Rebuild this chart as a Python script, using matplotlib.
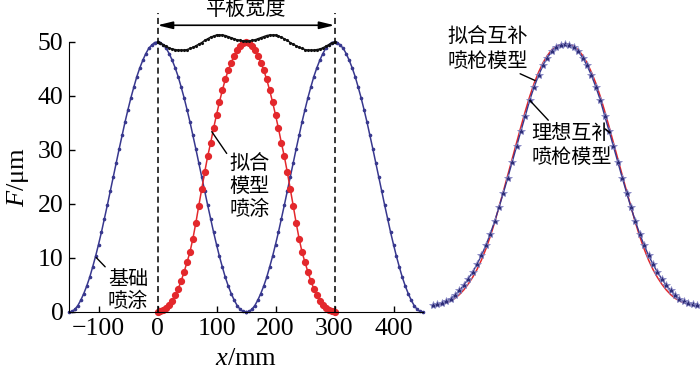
import numpy as np
import matplotlib
matplotlib.use('Agg')
import matplotlib.pyplot as plt

plt.rcParams['font.family'] = ['Liberation Serif', 'Noto Sans CJK SC']
plt.rcParams['mathtext.fontset'] = 'custom'
plt.rcParams['mathtext.rm'] = 'Liberation Serif'
plt.rcParams['mathtext.it'] = 'Liberation Serif:italic'

cjk = ['Noto Sans CJK SC']

# --- datos (paso de 5 mm) ---
perfil_x = np.arange(-150, 155, 5)          # posicion relativa al centro de la pistola
centros_base = [0, 300]                     # dos pasadas de la pistola base
centro_ajuste = 150

# pistola base (azul)
base_F = [0.0, 0.1, 0.5, 1.2, 2.2, 3.4, 4.8, 6.4, 8.3, 10.3, 12.5, 14.8, 17.3, 19.8, 22.4, 25.0,
          27.6, 30.2, 32.7, 35.2, 37.5, 39.7, 41.7, 43.6, 45.2, 46.6, 47.8, 48.8, 49.4, 49.9, 50.0,
          49.9, 49.4, 48.8, 47.8, 46.6, 45.2, 43.6, 41.7, 39.7, 37.5, 35.2, 32.7, 30.2, 27.6,
          25.0, 22.4, 19.8, 17.3, 14.8, 12.5, 10.3, 8.3, 6.4, 4.8, 3.4, 2.2, 1.2, 0.5, 0.1, 0.0]

# modelo ajustado (rojo)
ajuste_F = [0.0, 0.1, 0.3, 0.7, 1.3, 2.1, 3.1, 4.3, 5.7, 7.4, 9.2, 11.1, 13.6, 16.5, 19.7, 22.8,
            25.9, 28.8, 31.3, 34.0, 36.5, 38.9, 41.1, 43.1, 44.8, 46.2, 47.5, 48.5, 49.3, 49.8, 50.0,
            49.8, 49.3, 48.5, 47.5, 46.2, 44.8, 43.1, 41.1, 38.9, 36.5, 34.0, 31.3, 28.8, 25.9,
            22.8, 19.7, 16.5, 13.6, 11.1, 9.2, 7.4, 5.7, 4.3, 3.1, 2.1, 1.3, 0.7, 0.3, 0.1, 0.0]

# espesor de pelicula (negro), x = 0..300
pelicula_x = np.arange(0, 305, 5)
pelicula_F = [50.0, 49.8, 49.5, 49.2, 48.9, 48.7, 48.6, 48.5, 48.5, 48.5, 48.6, 48.8, 49.0, 49.3,
              49.6, 49.9, 50.3, 50.6, 50.9, 51.1, 51.3, 51.3, 51.3, 51.2, 51.0, 50.8, 50.6, 50.4,
              50.3, 50.2, 50.2, 50.2, 50.3, 50.4, 50.6, 50.8, 51.0, 51.2, 51.3, 51.3, 51.3, 51.1,
              50.9, 50.6, 50.3, 49.9, 49.6, 49.3, 49.0, 48.8, 48.6, 48.5, 48.5, 48.5, 48.6, 48.7,
              48.9, 49.2, 49.5, 49.8, 50.0]

placa = [0, 300]

# panel derecho: modelos complementarios
ideal_F = [0.0, 0.1, 0.35, 0.7, 1.2, 1.9, 2.8, 3.8, 5.0, 6.3, 7.8, 9.5, 11.4, 13.6, 16.0, 18.7,
           21.5, 24.4, 27.4, 30.4, 33.4, 36.3, 39.3, 41.8, 44.0, 45.9, 47.4, 48.6, 49.4, 49.85, 50.0,
           49.85, 49.4, 48.6, 47.4, 45.9, 44.0, 41.8, 39.3, 36.3, 33.4, 30.4, 27.4, 24.4, 21.5,
           18.7, 16.0, 13.6, 11.4, 9.5, 7.8, 6.3, 5.0, 3.8, 2.8, 1.9, 1.2, 0.7, 0.35, 0.1, 0.0]
ajuste2_F = [0.0, 0.05, 0.2, 0.45, 0.8, 1.3, 2.0, 2.9, 4.0, 5.3, 6.8, 8.6, 10.7, 13.1, 15.8, 18.8,
             21.8, 24.9, 28.0, 31.1, 34.2, 37.2, 40.0, 42.5, 44.6, 46.4, 47.8, 48.9, 49.5, 49.9, 50.0,
             49.9, 49.5, 48.9, 47.8, 46.4, 44.6, 42.5, 40.0, 37.2, 34.2, 31.1, 28.0, 24.9, 21.8,
             18.8, 15.8, 13.1, 10.7, 8.6, 6.8, 5.3, 4.0, 2.9, 2.0, 1.3, 0.8, 0.45, 0.2, 0.05, 0.0]

azul = '#38388e'
rojo = '#e3282c'

fig = plt.figure(figsize=(7, 3.74), dpi=100)
ax = fig.add_axes([69/700, 62/374, 354/700, 270/374])

for c in centros_base:
    ax.plot(perfil_x + c, base_F, '-', color=azul, lw=1.1, marker='o', ms=1.6, clip_on=False)
ax.plot(perfil_x + centro_ajuste, ajuste_F, '-', color=rojo, lw=1.1, marker='o', ms=4.2,
        clip_on=False)
ax.plot(pelicula_x, pelicula_F, '-', color='#111111', lw=1.0, marker='.', ms=2.5, clip_on=False)

ax.vlines(placa, 0, 55.3, colors='black', linestyles=(0, (4, 2.5)), lw=1.1, clip_on=False)
ax.annotate('', xy=(placa[0], 53.1), xytext=(placa[1], 53.1), annotation_clip=False,
            arrowprops=dict(arrowstyle='<|-|>,head_length=0.9,head_width=0.22', lw=1.2,
                            color='black', shrinkA=0, shrinkB=0))
ax.text(150, 56.0, '平板宽度', family=cjk, fontsize=14.5, ha='center', va='center')

ax.set_xlim(-150, 450)
ax.set_ylim(0, 50)
ax.set_xticks([-100, 0, 100, 200, 300, 400])
ax.set_yticks([0, 10, 20, 30, 40, 50])
ax.tick_params(direction='in', labelsize=18.5, length=4, width=1)
ax.tick_params(axis='x', pad=4)
ax.tick_params(axis='y', pad=4)
ax.spines['top'].set_visible(False)
ax.spines['right'].set_visible(False)
ax.set_xlabel('$x$/mm', fontsize=19, labelpad=6)
ax.set_ylabel('$F$/μm', fontsize=19, labelpad=5)

lin = dict(arrowstyle='-', lw=1.0, color='black', shrinkA=0, shrinkB=0)
ax.annotate('基础\n喷涂', xy=(-104, 10.1), xytext=(-84, 8.0), family=cjk, fontsize=14.5,
            ha='left', va='top', linespacing=1.1, arrowprops=lin)
ax.annotate('拟合\n模型\n喷涂', xy=(92, 33.4), xytext=(122, 29.3), family=cjk, fontsize=14.5,
            ha='left', va='top', linespacing=1.1, arrowprops=lin)
ax.annotate('膜厚\n分布', xy=(188, 50.8), xytext=(203, 49.6), family=cjk, fontsize=14.5,
            ha='left', va='top', linespacing=1.1, arrowprops=lin)

# panel derecho
ax2 = fig.add_axes([433/700, 69/374, 264/700, 261/374])
ax2.plot(perfil_x, ajuste2_F, '-', color=rojo, lw=1.1, clip_on=False)
ax2.plot(perfil_x, ideal_F, '-', color=azul, lw=1.0, marker='*', ms=6,
         mfc='#2e2e78', mec='#8c8cc8', mew=0.5, clip_on=False)
ax2.set_xlim(-150, 150)
ax2.set_ylim(0, 50)
ax2.axis('off')

ax2.text(-42, 44.6, '拟合互补\n喷枪模型', family=cjk, fontsize=14.5, ha='right', va='bottom',
         linespacing=1.2)
ax2.annotate('', xy=(-34, 43.0), xytext=(-51, 44.3), arrowprops=lin)
ax2.text(-38, 34.9, '理想互补\n喷枪模型', family=cjk, fontsize=14.5, ha='left', va='top',
         linespacing=1.2)
ax2.annotate('', xy=(-40, 39.2), xytext=(-19, 35.4), arrowprops=lin)

fig.savefig('out.png', dpi=100)
